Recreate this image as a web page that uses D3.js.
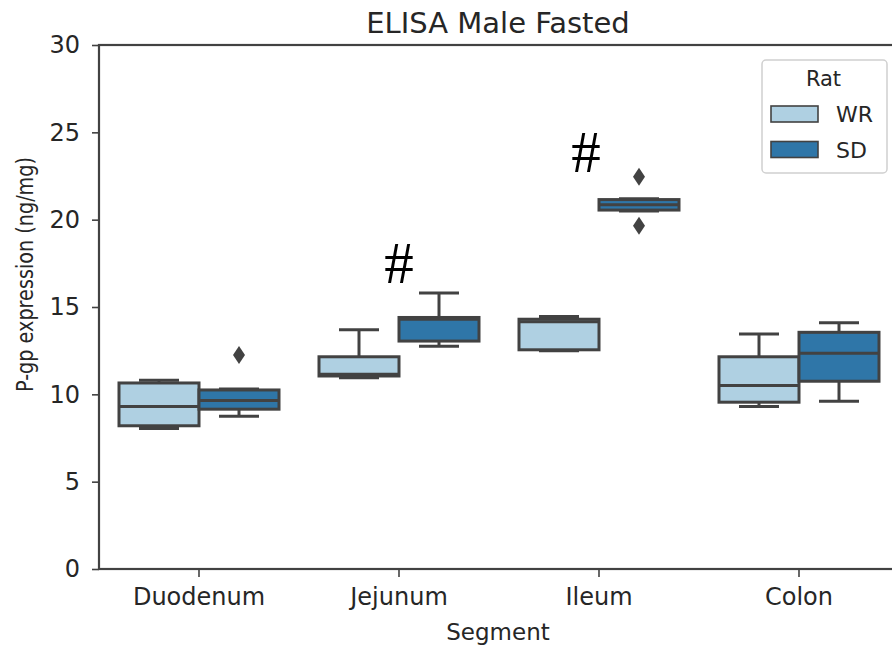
<!DOCTYPE html>
<html>
<head>
<meta charset="utf-8">
<script src="https://cdn.jsdelivr.net/npm/d3@7"></script>
<style>
  body { margin: 0; background: #fff; }
  svg { display: block; font-family: "DejaVu Sans", sans-serif; }
</style>
</head>
<body>
<svg id="chart" width="892" height="649"></svg>
<script>
// Intestinal segments and rat strains
const segments = ["Duodenum", "Jejunum", "Ileum", "Colon"];
const rats = ["WR", "SD"];

// Box statistics per segment (ng/mg)
const wrLow  = [8.05, 10.95, 12.5, 9.3];
const wrQ1   = [8.2, 11.05, 12.55, 9.55];
const wrMed  = [9.3, 11.15, 14.15, 10.5];
const wrQ3   = [10.65, 12.15, 14.3, 12.15];
const wrHigh = [10.8, 13.7, 14.45, 13.45];
const wrOut  = [[], [], [], []];

const sdLow  = [8.75, 12.75, 20.5, 9.6];
const sdQ1   = [9.15, 13.05, 20.55, 10.75];
const sdMed  = [9.65, 14.3, 20.85, 12.35];
const sdQ3   = [10.25, 14.4, 21.15, 13.55];
const sdHigh = [10.3, 15.8, 21.2, 14.1];
const sdOut  = [[12.25], [], [22.45, 19.65], []];

const yTicks = [0, 5, 10, 15, 20, 25, 30];

// Significance marks
const marks = [{ seg: "Jejunum", y: 16.37, dx: 0 }, { seg: "Ileum", y: 22.73, dx: -13 }];

const colors = { WR: "#afd0e2", SD: "#2f76a8" };
const lineCol = "#424242";
const textCol = "#262626";

const series = {
  WR: segments.map((s, i) => ({ seg: s, lo: wrLow[i], q1: wrQ1[i], med: wrMed[i], q3: wrQ3[i], hi: wrHigh[i], out: wrOut[i] })),
  SD: segments.map((s, i) => ({ seg: s, lo: sdLow[i], q1: sdQ1[i], med: sdMed[i], q3: sdQ3[i], hi: sdHigh[i], out: sdOut[i] }))
};

const L = 99, R = 899, T = 45, B = 569;
const svg = d3.select("#chart");

const x = d3.scaleBand().domain(segments).range([L, R]);
const xHue = d3.scaleBand().domain(rats).range([-0.4 * x.bandwidth(), 0.4 * x.bandwidth()]);
const y = d3.scaleLinear().domain([0, 30]).range([B, T]);

// Axes
const yAxis = svg.append("g").attr("transform", `translate(${L},0)`)
  .call(d3.axisLeft(y).tickValues(yTicks).tickSize(7).tickPadding(12).tickFormat(d3.format("d")));
const xAxis = svg.append("g").attr("transform", `translate(0,${B})`)
  .call(d3.axisBottom(x).tickSize(8).tickPadding(11));
[yAxis, xAxis].forEach(g => {
  g.select(".domain").remove();
  g.selectAll(".tick line").attr("stroke", lineCol).attr("stroke-width", 1.6);
  g.selectAll(".tick text").attr("fill", textCol).attr("font-size", 24)
    .attr("font-family", "DejaVu Sans, sans-serif");
});

// Frame
svg.append("rect").attr("x", L).attr("y", T).attr("width", R - L).attr("height", B - T)
  .attr("fill", "none").attr("stroke", lineCol).attr("stroke-width", 2.2);

// Boxes
rats.forEach(r => {
  const g = svg.append("g");
  const bw = xHue.bandwidth();
  series[r].forEach(d => {
    const cx = x(d.seg) + x.bandwidth() / 2 + xHue(r) + bw / 2;
    // whiskers
    g.append("line").attr("x1", cx).attr("x2", cx).attr("y1", y(d.q3)).attr("y2", y(d.hi))
      .attr("stroke", lineCol).attr("stroke-width", 3);
    g.append("line").attr("x1", cx).attr("x2", cx).attr("y1", y(d.q1)).attr("y2", y(d.lo))
      .attr("stroke", lineCol).attr("stroke-width", 3);
    [d.lo, d.hi].forEach(v => g.append("line")
      .attr("x1", cx - bw / 4).attr("x2", cx + bw / 4).attr("y1", y(v)).attr("y2", y(v))
      .attr("stroke", lineCol).attr("stroke-width", 3));
    // box
    g.append("rect").attr("x", cx - bw / 2).attr("width", bw)
      .attr("y", y(d.q3)).attr("height", y(d.q1) - y(d.q3))
      .attr("fill", colors[r]).attr("stroke", lineCol).attr("stroke-width", 3);
    // median
    g.append("line").attr("x1", cx - bw / 2).attr("x2", cx + bw / 2)
      .attr("y1", y(d.med)).attr("y2", y(d.med)).attr("stroke", lineCol).attr("stroke-width", 3);
    // outliers
    d.out.forEach(v => g.append("path")
      .attr("d", "M0,-9 L6,0 L0,9 L-6,0 Z")
      .attr("transform", `translate(${cx},${y(v)})`)
      .attr("fill", lineCol));
  });
});

// Significance marks
marks.forEach(m => svg.append("text")
  .attr("x", x(m.seg) + x.bandwidth() / 2 + m.dx).attr("y", y(m.y))
  .attr("text-anchor", "middle").attr("font-family", "Liberation Serif, serif")
  .attr("font-size", 59).attr("fill", "#000").text("#"));

// Title and axis labels
svg.append("text").attr("x", (L + R) / 2 - 1).attr("y", 33).attr("text-anchor", "middle")
  .attr("font-size", 29).attr("fill", textCol).text("ELISA Male Fasted");
svg.append("text").attr("x", (L + R) / 2 - 1).attr("y", 640).attr("text-anchor", "middle")
  .attr("font-size", 23).attr("fill", textCol).text("Segment");
svg.append("text").attr("transform", "translate(32.5,274.5) rotate(-90)")
  .attr("text-anchor", "middle").attr("font-size", 23).attr("fill", textCol)
  .attr("textLength", 235).attr("lengthAdjust", "spacingAndGlyphs")
  .text("P-gp expression (ng/mg)");

// Legend
const lg = svg.append("g");
lg.append("rect").attr("x", 762).attr("y", 60).attr("width", 125).attr("height", 113)
  .attr("rx", 4).attr("fill", "#fff").attr("fill-opacity", 0.8)
  .attr("stroke", "#d0d0d0").attr("stroke-width", 1.5);
lg.append("text").attr("x", 823.5).attr("y", 86).attr("text-anchor", "middle")
  .attr("font-size", 21).attr("fill", textCol).text("Rat");
rats.forEach((r, i) => {
  const yy = 106 + i * 35.5;
  lg.append("rect").attr("x", 771).attr("y", yy).attr("width", 47).attr("height", 16)
    .attr("fill", colors[r]).attr("stroke", lineCol).attr("stroke-width", 1.6);
  lg.append("text").attr("x", 836).attr("y", yy + 16).attr("font-size", 22)
    .attr("fill", textCol).text(r);
});
</script>
</body>
</html>
